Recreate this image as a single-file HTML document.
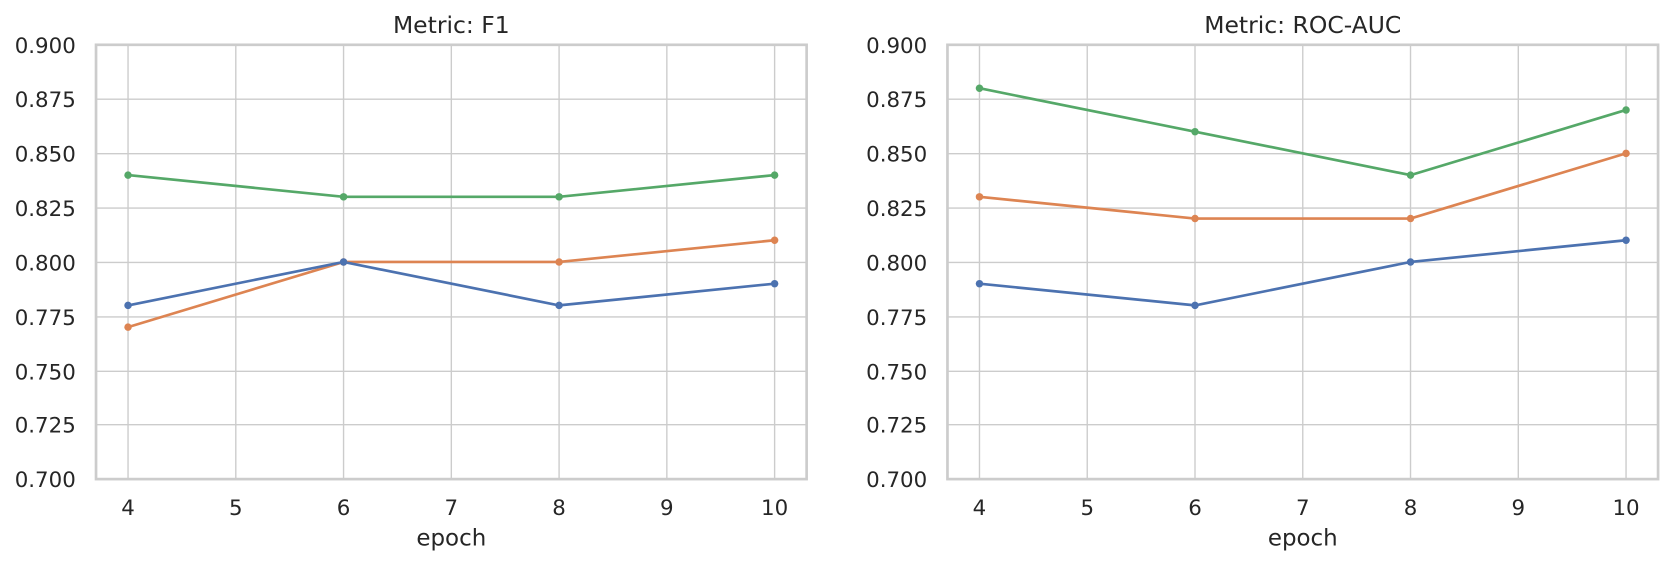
<!DOCTYPE html>
<html><head><style>body{margin:0;background:#fff}svg{display:block}text{font-family:"DejaVu Sans","Liberation Sans",sans-serif;fill:#262626}</style></head>
<body>
<svg width="1673" height="565" viewBox="0 0 1568 529.5" preserveAspectRatio="none" xmlns="http://www.w3.org/2000/svg">
<defs>
<g id="grid">
<g stroke="#cccccc" stroke-width="1.3">
<line x1="0" x2="666" y1="42" y2="42"/><line x1="0" x2="666" y1="93" y2="93"/><line x1="0" x2="666" y1="144" y2="144"/><line x1="0" x2="666" y1="195" y2="195"/><line x1="0" x2="666" y1="246" y2="246"/><line x1="0" x2="666" y1="297" y2="297"/><line x1="0" x2="666" y1="348" y2="348"/><line x1="0" x2="666" y1="398" y2="398"/>
<line x1="30" x2="30" y1="42" y2="449"/><line x1="131" x2="131" y1="42" y2="449"/><line x1="232" x2="232" y1="42" y2="449"/><line x1="333" x2="333" y1="42" y2="449"/><line x1="434" x2="434" y1="42" y2="449"/><line x1="535" x2="535" y1="42" y2="449"/><line x1="636" x2="636" y1="42" y2="449"/>
</g>
<rect x="0" y="42" width="666" height="407" fill="none" stroke="#cccccc" stroke-width="2.5"/>
<g font-size="20" text-anchor="end">
<text x="-19" y="49.5">0.900</text><text x="-19" y="100.5">0.875</text><text x="-19" y="151.5">0.850</text><text x="-19" y="202.5">0.825</text><text x="-19" y="253.5">0.800</text><text x="-19" y="304.5">0.775</text><text x="-19" y="355.5">0.750</text><text x="-19" y="405.5">0.725</text><text x="-19" y="456.5">0.700</text>
</g>
<g font-size="20" text-anchor="middle">
<text x="30" y="482.5">4</text><text x="131" y="482.5">5</text><text x="232" y="482.5">6</text><text x="333" y="482.5">7</text><text x="434" y="482.5">8</text><text x="535" y="482.5">9</text><text x="636" y="482.5">10</text>
<text x="333" y="511" font-size="21.5">epoch</text>
</g>
</g>
</defs>
<g transform="translate(90,0)">
<use href="#grid"/>
<text x="333" y="31" font-size="22" text-anchor="middle">Metric: F1</text>
<g fill="none" stroke-width="2.5">
<polyline stroke="#55a868" points="30,164.1 232,184.45 434,184.45 636,164.1"/>
<polyline stroke="#dd8452" points="30,306.55 232,245.5 434,245.5 636,225.15"/>
<polyline stroke="#4c72b0" points="30,286.2 232,245.5 434,286.2 636,265.85"/>
</g>
<g fill="#55a868"><circle cx="30" cy="164.1" r="3.5"/><circle cx="232" cy="184.45" r="3.5"/><circle cx="434" cy="184.45" r="3.5"/><circle cx="636" cy="164.1" r="3.5"/></g>
<g fill="#dd8452"><circle cx="30" cy="306.55" r="3.5"/><circle cx="232" cy="245.5" r="3.5"/><circle cx="434" cy="245.5" r="3.5"/><circle cx="636" cy="225.15" r="3.5"/></g>
<g fill="#4c72b0"><circle cx="30" cy="286.2" r="3.5"/><circle cx="232" cy="245.5" r="3.5"/><circle cx="434" cy="286.2" r="3.5"/><circle cx="636" cy="265.85" r="3.5"/></g>
</g>
<g transform="translate(888,0)">
<use href="#grid"/>
<text x="333" y="31" font-size="22" text-anchor="middle">Metric: ROC-AUC</text>
<g fill="none" stroke-width="2.5">
<polyline stroke="#55a868" points="30,82.7 232,123.4 434,164.1 636,103.05"/>
<polyline stroke="#dd8452" points="30,184.45 232,204.8 434,204.8 636,143.75"/>
<polyline stroke="#4c72b0" points="30,265.85 232,286.2 434,245.5 636,225.15"/>
</g>
<g fill="#55a868"><circle cx="30" cy="82.7" r="3.5"/><circle cx="232" cy="123.4" r="3.5"/><circle cx="434" cy="164.1" r="3.5"/><circle cx="636" cy="103.05" r="3.5"/></g>
<g fill="#dd8452"><circle cx="30" cy="184.45" r="3.5"/><circle cx="232" cy="204.8" r="3.5"/><circle cx="434" cy="204.8" r="3.5"/><circle cx="636" cy="143.75" r="3.5"/></g>
<g fill="#4c72b0"><circle cx="30" cy="265.85" r="3.5"/><circle cx="232" cy="286.2" r="3.5"/><circle cx="434" cy="245.5" r="3.5"/><circle cx="636" cy="225.15" r="3.5"/></g>
</g>
</svg>
</body></html>
